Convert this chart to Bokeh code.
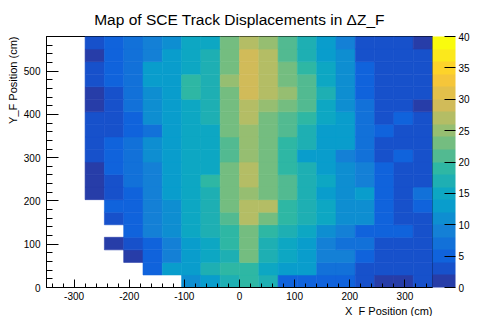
import numpy as np
from bokeh.plotting import figure
from bokeh.models import (LinearColorMapper, ColorBar, SingleIntervalTicker,
                          ColumnDataSource, PrintfTickFormatter, Title)
from bokeh.embed import file_html
from bokeh.resources import INLINE

# ---------------- data ----------------
x_edges = [-350, -315, -280, -245, -210, -175, -140, -105, -70, -35, 0,
           35, 70, 105, 140, 175, 210, 245, 280, 315, 350]
y_edges = [0, 29, 58, 87, 116, 145, 174, 203, 232, 261, 290,
           319, 348, 377, 406, 435, 464, 493, 522, 551, 580]

N = None
# one list per Y bin (bottom to top), one value per X bin (left to right)
row00 = [N, N, N, N, N, N, N, 11, 13, 17, 19, 17, 5, 5, 5, 5, 3, 1, 1, 3]
row01 = [N, N, N, N, N, 5, 13, 13, 17, 19, 19, 15, 13, 13, 7, 7, 3, 3, 3, 3]
row02 = [N, N, N, N, 1, 5, 9, 13, 15, 17, 23, 17, 15, 13, 9, 9, 5, 3, 3, 3]
row03 = [N, N, N, 1, 3, 5, 9, 13, 15, 19, 23, 17, 15, 13, 9, 7, 7, 3, 3, 3]
row04 = [N, N, N, N, 5, 9, 11, 15, 17, 19, 23, 19, 17, 15, 11, 9, 5, 5, 5, 3]
row05 = [N, N, N, 3, 5, 9, 11, 15, 17, 21, 27, 23, 19, 17, 15, 11, 11, 5, 3, 3]
row06 = [N, N, N, 5, 5, 9, 11, 15, 17, 23, 27, 27, 19, 17, 15, 11, 11, 5, 3, 5]
row07 = [N, N, 1, 3, 5, 9, 13, 15, 17, 23, 25, 23, 21, 17, 13, 11, 13, 5, 3, 7]
row08 = [N, N, 1, 3, 7, 9, 13, 15, 19, 23, 27, 23, 21, 17, 15, 11, 9, 5, 3, 3]
row09 = [N, N, 1, 5, 7, 9, 13, 15, 15, 23, 27, 23, 19, 17, 13, 11, 9, 5, 3, 3]
row10 = [N, N, 3, 5, 7, 11, 13, 15, 15, 21, 25, 23, 19, 13, 13, 9, 7, 3, 5, 3]
row11 = [N, N, 3, 5, 7, 11, 13, 15, 15, 21, 25, 23, 19, 17, 13, 13, 7, 3, 3, 3]
row12 = [N, N, 3, 3, 5, 7, 13, 15, 15, 23, 25, 23, 21, 17, 13, 13, 7, 5, 3, 3]
row13 = [N, N, 3, 3, 5, 11, 13, 15, 17, 23, 27, 23, 21, 19, 15, 13, 7, 3, 5, 3]
row14 = [N, N, 1, 3, 7, 11, 13, 15, 17, 23, 27, 25, 23, 21, 15, 11, 7, 3, 3, 1]
row15 = [N, N, 1, 3, 7, 11, 13, 19, 17, 23, 29, 27, 25, 21, 17, 11, 5, 3, 3, 3]
row16 = [N, N, 3, 5, 7, 13, 13, 19, 17, 25, 29, 27, 23, 21, 15, 11, 5, 3, 3, 3]
row17 = [N, N, 3, 5, 7, 13, 13, 15, 17, 23, 29, 27, 23, 19, 15, 11, 5, 3, 3, 3]
row18 = [N, N, 1, 5, 7, 9, 13, 15, 17, 23, 29, 27, 21, 17, 13, 11, 3, 3, 3, 3]
row19 = [N, N, 3, 5, 7, 9, 11, 15, 15, 23, 27, 25, 21, 17, 13, 9, 3, 3, 3, 1]

rows = [row00, row01, row02, row03, row04, row05, row06, row07, row08, row09,
        row10, row11, row12, row13, row14, row15, row16, row17, row18, row19]

z_low, z_high = 0, 40
n_levels = 20

# ---------------- palette (ROOT kBird, 20 contour levels) ----------------
stops = [0.0, 0.125, 0.25, 0.375, 0.5, 0.625, 0.75, 0.875, 1.0]
red = [0.2082, 0.0592, 0.0780, 0.0232, 0.1802, 0.5301, 0.8186, 0.9956, 0.9764]
green = [0.1664, 0.3599, 0.5041, 0.6419, 0.7178, 0.7492, 0.7328, 0.7862, 0.9832]
blue = [0.5293, 0.8684, 0.8385, 0.7914, 0.6425, 0.4662, 0.3499, 0.1968, 0.0539]
palette = []
for i in range(n_levels):
    idx = int((i + 0.99) * 255 / n_levels)
    t = idx / 254.0
    r = np.interp(t, stops, red)
    g = np.interp(t, stops, green)
    b = np.interp(t, stops, blue)
    palette.append("#%02x%02x%02x" % (int(round(r * 255)), int(round(g * 255)), int(round(b * 255))))

# ---------------- source ----------------
left, right, bottom, top, zval = [], [], [], [], []
for r_i, row in enumerate(rows):
    for c_i, v in enumerate(row):
        if v is None:
            continue
        left.append(x_edges[c_i]); right.append(x_edges[c_i + 1])
        bottom.append(y_edges[r_i]); top.append(y_edges[r_i + 1])
        zval.append(v)
src = ColumnDataSource(dict(left=left, right=right, bottom=bottom, top=top, z=zval))

mapper = LinearColorMapper(palette=palette, low=z_low, high=z_high)

FONT = "Liberation Sans"

p = figure(width=472, height=316, x_range=(x_edges[0], x_edges[-1]),
           y_range=(y_edges[0], y_edges[-1]),
           output_backend="svg", toolbar_location=None,
           min_border_left=46, min_border_right=38, min_border_top=34, min_border_bottom=24)

p.quad(left="left", right="right", bottom="bottom", top="top", source=src,
       fill_color={"field": "z", "transform": mapper},
       line_color={"field": "z", "transform": mapper}, line_width=0.6)

p.title.text = "Map of SCE Track Displacements in \u0394Z_F"
p.title.align = "center"
p.title.text_font = FONT
p.title.text_font_size = "15.5px"
p.title.text_font_style = "normal"
p.title.text_color = "black"
p.title.standoff = 17

p.xgrid.grid_line_color = None
p.ygrid.grid_line_color = None
p.outline_line_color = "black"
p.background_fill_color = "white"
p.border_fill_color = "white"

p.xaxis.ticker = SingleIntervalTicker(interval=100, num_minor_ticks=5)
p.yaxis.ticker = SingleIntervalTicker(interval=100, num_minor_ticks=5)
for ax, maj, mnr in ((p.xaxis, 8, 4), (p.yaxis, 12, 6)):
    ax.formatter = PrintfTickFormatter(format="%d")
    ax.major_tick_in = maj
    ax.major_tick_out = 0
    ax.minor_tick_in = mnr
    ax.minor_tick_out = 0
    ax.axis_line_color = "black"
    ax.major_tick_line_color = "black"
    ax.minor_tick_line_color = "black"
    ax.major_label_text_font = FONT
    ax.major_label_text_font_size = "10px"
    ax.major_label_text_color = "black"
p.xaxis.major_label_standoff = 4
p.yaxis.major_label_standoff = 6

# axis titles, ROOT style: right-aligned at the end of each axis
p.add_layout(Title(text="X_F Position (cm)", align="right", text_font=FONT,
                   text_font_size="11px", text_font_style="normal",
                   text_color="black", standoff=0), "below")
p.add_layout(Title(text="Y_F Position (cm)", align="right", text_font=FONT,
                   text_font_size="11px", text_font_style="normal",
                   text_color="black", standoff=3), "left")

cb = ColorBar(color_mapper=mapper, ticker=SingleIntervalTicker(interval=5),
              width=23, padding=0, margin=1,
              major_tick_in=11, major_tick_out=0, major_tick_line_color="black",
              minor_tick_line_color=None, label_standoff=3,
              major_label_text_font=FONT, major_label_text_font_size="10px",
              major_label_text_color="black",
              border_line_color=None, background_fill_color=None, bar_line_color=None)
p.add_layout(cb, "right")

open("out.html", "w").write(file_html(p, INLINE))
